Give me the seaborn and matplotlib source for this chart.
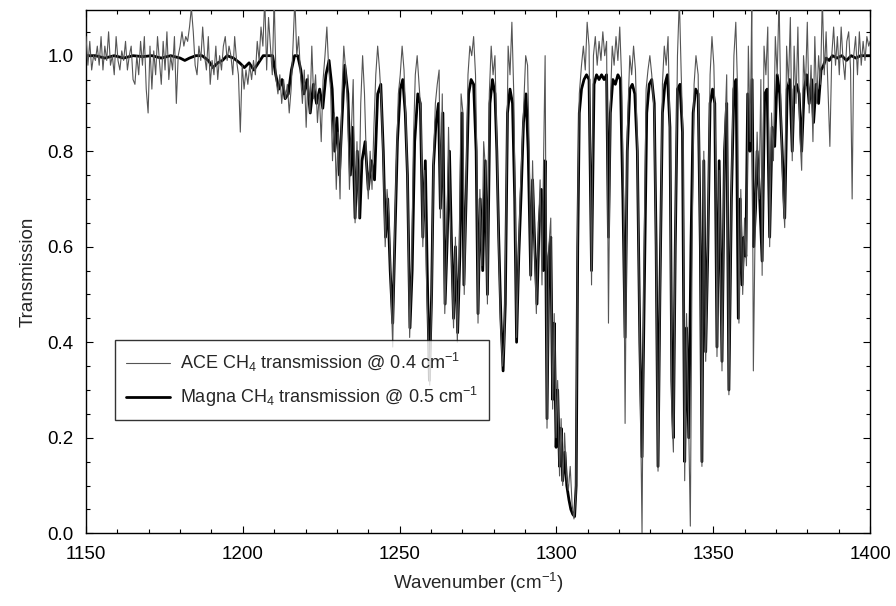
import numpy as np
import pandas as pd
import seaborn as sns
import matplotlib.pyplot as plt
from matplotlib.ticker import MultipleLocator

# (wavenumber in cm-1, transmission)
magna_wn = [
    1150, 1153, 1156, 1159, 1162, 1165, 1168, 1171, 1174, 1177, 1180, 1181.5, 1183, 1185, 1187, 1189,
    1190.5, 1192, 1193.5, 1195, 1197, 1199, 1200.5, 1202, 1203.5, 1205, 1206.5, 1208, 1209.5, 1210.5,
    1211.5, 1212.5, 1213.5, 1214.5, 1215.5, 1216.5, 1217.5, 1218.5, 1219.5, 1220.5, 1221.5, 1222.5,
    1223.5, 1224.5, 1225.5, 1226.5, 1227.5, 1228.5, 1229.3, 1230, 1230.8, 1231.5, 1232.5, 1233.5,
    1234.3, 1235, 1235.8, 1236.5, 1237.3, 1238, 1239, 1240, 1241, 1242, 1243, 1244, 1244.8, 1245.5,
    1246.2, 1247, 1247.8, 1248.5, 1249.3, 1250.2, 1251, 1251.8, 1252.5, 1253.3, 1254, 1254.8, 1255.8,
    1256.6, 1257.4, 1258.2, 1258.8, 1259.5, 1260.2, 1260.8, 1261.6, 1262.4, 1263, 1263.8, 1264.5,
    1265.2, 1265.9, 1266.5, 1267.2, 1267.8, 1268.5, 1269.2, 1269.9, 1270.5, 1271.2, 1272, 1272.8,
    1273.6, 1274.4, 1275, 1275.7, 1276.5, 1277.3, 1278, 1278.8, 1279.6, 1280.4, 1281, 1281.6, 1282.3,
    1283, 1283.7, 1284.4, 1285.2, 1286, 1286.7, 1287.3, 1288, 1288.8, 1289.5, 1290.3, 1291, 1291.8,
    1292.4, 1293, 1293.8, 1294.5, 1295.2, 1295.8, 1296.4, 1297, 1297.6, 1298.2, 1298.8, 1299.3,
    1299.9, 1300.4, 1301, 1301.5, 1302, 1302.7, 1303.3, 1304, 1304.6, 1305.2, 1305.8, 1306.3, 1306.8,
    1307.3, 1308, 1308.8, 1309.6, 1310.4, 1311.2, 1312, 1312.8, 1313.6, 1314.4, 1315.2, 1316, 1316.6,
    1317.2, 1318, 1318.8, 1319.6, 1320.4, 1321.2, 1321.9, 1322.6, 1323.4, 1324.2, 1325, 1325.8,
    1326.6, 1327.3, 1328, 1328.8, 1329.6, 1330.4, 1331.2, 1331.8, 1332.4, 1333, 1333.8, 1334.6,
    1335.4, 1336.2, 1336.8, 1337.3, 1337.9, 1338.6, 1339.4, 1340.2, 1340.9, 1341.5, 1342.2, 1342.9,
    1343.6, 1344.4, 1345.2, 1345.9, 1346.4, 1347, 1347.6, 1348.3, 1349, 1349.8, 1350.5, 1351.2,
    1351.9, 1352.8, 1353.6, 1354.3, 1355, 1355.8, 1356.6, 1357.3, 1358, 1358.6, 1359.2, 1359.8,
    1360.4, 1361, 1361.7, 1362.4, 1362.9, 1363.5, 1364, 1364.7, 1365.6, 1366.4, 1367.2, 1368, 1368.8,
    1369.6, 1370.4, 1371.2, 1372, 1372.8, 1373.6, 1374.4, 1375.2, 1375.8, 1376.6, 1377.4, 1378.2,
    1379, 1379.8, 1380.6, 1381.4, 1382, 1382.8, 1383.6, 1384.4, 1385.2, 1386, 1387, 1388, 1389.5,
    1391, 1392.5, 1394, 1395.5, 1397, 1398.5, 1400,
]
magna_tr = [
    1.00, 1.00, 0.995, 1.00, 0.995, 1.00, 0.998, 1.00, 0.995, 1.00, 0.995, 0.99, 0.995, 1.00, 1.00, 0.99,
    0.975, 0.985, 0.99, 1.00, 0.995, 0.985, 0.975, 0.985, 0.97, 0.985, 1.00, 1.00, 1.00, 0.96,
    0.93, 0.95, 0.91, 0.92, 0.97, 1.00, 1.00, 0.97, 0.92, 0.95, 0.88, 0.94,
    0.90, 0.93, 0.89, 0.96, 0.99, 0.93, 0.80, 0.87, 0.75, 0.85, 0.98, 0.92,
    0.75, 0.85, 0.66, 0.80, 0.66, 0.78, 0.82, 0.72, 0.78, 0.74, 0.92, 0.94, 0.80, 0.62,
    0.70, 0.55, 0.44, 0.62, 0.82, 0.93, 0.95, 0.88, 0.75, 0.43, 0.55, 0.82, 0.92,
    0.90, 0.62, 0.78, 0.55, 0.32, 0.50, 0.77, 0.86, 0.90, 0.68, 0.88, 0.48,
    0.62, 0.80, 0.62, 0.45, 0.60, 0.42, 0.58, 0.88, 0.52, 0.70, 0.92, 0.95,
    0.94, 0.80, 0.46, 0.70, 0.55, 0.78, 0.50, 0.90, 0.95, 0.92, 0.80, 0.62, 0.45,
    0.34, 0.48, 0.88, 0.93, 0.90, 0.70, 0.40, 0.58, 0.72, 0.86, 0.92, 0.80, 0.54,
    0.74, 0.62, 0.48, 0.65, 0.72, 0.55, 0.78, 0.24, 0.58, 0.62, 0.28, 0.44,
    0.18, 0.30, 0.14, 0.22, 0.11, 0.17, 0.10, 0.07, 0.05, 0.04, 0.035, 0.10, 0.60,
    0.88, 0.93, 0.95, 0.96, 0.95, 0.55, 0.94, 0.96, 0.95, 0.96, 0.95, 0.96, 0.62,
    0.88, 0.95, 0.94, 0.96, 0.95, 0.70, 0.41, 0.80, 0.93, 0.94, 0.92, 0.80,
    0.40, 0.16, 0.50, 0.88, 0.94, 0.95, 0.90, 0.60, 0.14, 0.50, 0.88, 0.94,
    0.96, 0.85, 0.32, 0.20, 0.60, 0.93, 0.94, 0.84, 0.15, 0.43, 0.20, 0.60,
    0.88, 0.93, 0.92, 0.60, 0.15, 0.78, 0.38, 0.60, 0.90, 0.93, 0.90, 0.39,
    0.78, 0.36, 0.80, 0.90, 0.30, 0.70, 0.93, 0.95, 0.45, 0.70, 0.52, 0.62,
    0.58, 0.92, 0.80, 0.95, 0.60, 0.68, 0.80, 0.72, 0.57, 0.92, 0.93, 0.62, 0.85,
    0.81, 0.96, 0.92, 0.80, 0.66, 0.93, 0.95, 0.80, 0.93, 0.94, 0.92, 0.80,
    0.93, 0.96, 0.90, 0.95, 0.86, 0.94, 0.90, 0.97, 0.98, 0.995, 0.99, 1.00, 0.995,
    1.00, 0.99, 1.00, 0.995, 1.00, 1.00, 1.00,
]

ace_wn = [
    1150.0, 1150.6, 1151.2, 1151.8, 1152.4, 1153.0, 1153.6, 1154.2, 1154.8, 1155.4, 1156.0, 1156.6,
    1157.2, 1157.8, 1158.4, 1159.0, 1159.6, 1160.2, 1160.8, 1161.4, 1162.0, 1162.6, 1163.2, 1163.8,
    1164.4, 1165.0, 1165.6, 1166.2, 1166.8, 1167.4, 1168.0, 1168.6, 1169.2, 1169.8, 1170.4, 1171.0,
    1171.6, 1172.2, 1172.8, 1173.4, 1174.0, 1174.6, 1175.2, 1175.8, 1176.4, 1177.0, 1177.6, 1178.2,
    1178.8, 1179.4, 1180.0, 1180.6, 1181.2, 1181.8, 1182.4, 1183.0, 1183.6, 1184.2, 1184.8, 1185.4,
    1186.0, 1186.6, 1187.2, 1187.8, 1188.4, 1189.0, 1189.6, 1190.2, 1190.8, 1191.4, 1192.0, 1192.6,
    1193.2, 1193.8, 1194.4, 1195.0, 1195.6, 1196.2, 1196.8, 1197.4, 1198.0, 1198.6, 1199.2, 1199.8,
    1200.4, 1201.0, 1201.6, 1202.2, 1202.8, 1203.4, 1204.0, 1204.6, 1205.2, 1205.8, 1206.4, 1207.0,
    1207.6, 1208.2, 1208.8, 1209.4, 1210.0, 1210.6, 1211.2, 1211.8, 1212.4, 1213.0, 1213.6, 1214.2,
    1214.8, 1215.4, 1216.0, 1216.6, 1217.2, 1217.8, 1218.4, 1219.0, 1219.6, 1220.2, 1220.8, 1221.4,
    1222.0, 1222.6, 1223.2, 1223.8, 1224.4, 1225.0, 1225.6, 1226.2, 1226.8, 1227.4, 1228.0, 1228.6,
    1229.2, 1229.8, 1230.4, 1231.0, 1231.6, 1232.2, 1232.8, 1233.4, 1234.0, 1234.6, 1235.2, 1235.8,
    1236.4, 1237.0, 1237.6, 1238.2, 1238.8, 1239.4, 1240.0, 1240.6, 1241.2, 1241.8, 1242.4, 1243.0,
    1243.6, 1244.2, 1244.8, 1245.4, 1246.0, 1246.6, 1247.2, 1247.8, 1248.4, 1249.0, 1249.6, 1250.2,
    1250.8, 1251.4, 1252.0, 1252.6, 1253.2, 1253.8, 1254.4, 1255.0, 1255.6, 1256.2, 1256.8, 1257.4,
    1258.0, 1258.6, 1259.2, 1259.6, 1260.2, 1260.8, 1261.4, 1262.0, 1262.6, 1263.0, 1263.6, 1264.4,
    1265.0, 1265.6, 1266.2, 1266.8, 1267.2, 1267.8, 1268.4, 1269.0, 1269.6, 1270.2, 1270.6, 1271.2,
    1271.8, 1272.4, 1273.0, 1273.6, 1274.2, 1274.6, 1275.0, 1275.6, 1276.2, 1276.8, 1277.4, 1278.0,
    1278.6, 1279.2, 1279.8, 1280.4, 1281.0, 1281.6, 1282.2, 1282.8, 1283.4, 1284.0, 1284.6, 1285.2,
    1285.8, 1286.4, 1286.8, 1287.3, 1287.8, 1288.4, 1289.0, 1289.6, 1290.2, 1290.8, 1291.4, 1291.8,
    1292.4, 1293.0, 1293.6, 1294.2, 1294.8, 1295.4, 1295.9, 1296.4, 1297.0, 1297.6, 1298.2, 1298.8,
    1299.3, 1299.9, 1300.4, 1301.0, 1301.5, 1302.0, 1302.6, 1303.2, 1303.8, 1304.4, 1305.0, 1305.6,
    1306.2, 1306.8, 1307.3, 1308.0, 1308.6, 1309.2, 1309.8, 1310.4, 1311.2, 1311.8, 1312.4, 1313.0,
    1313.6, 1314.2, 1314.8, 1315.4, 1316.0, 1316.6, 1317.2, 1317.8, 1318.4, 1319.0, 1319.6, 1320.2,
    1320.8, 1321.4, 1321.9, 1322.6, 1323.4, 1324.0, 1324.6, 1325.2, 1325.8, 1326.6, 1327.3, 1327.9,
    1328.6, 1329.2, 1329.8, 1330.4, 1331.2, 1331.8, 1332.4, 1333.0, 1333.8, 1334.4, 1335.0, 1335.6,
    1336.2, 1336.8, 1337.3, 1337.9, 1338.6, 1339.2, 1339.8, 1340.4, 1340.9, 1341.5, 1342.2, 1342.7,
    1343.3, 1343.9, 1344.5, 1345.2, 1345.9, 1346.4, 1347.0, 1347.6, 1348.3, 1349.0, 1349.6, 1350.2,
    1350.8, 1351.2, 1351.9, 1352.8, 1353.6, 1354.3, 1355.0, 1355.8, 1356.6, 1357.2, 1357.8, 1358.2,
    1358.8, 1359.4, 1360.0, 1360.6, 1361.2, 1361.8, 1362.3, 1362.8, 1363.4, 1364.0, 1364.6, 1365.2,
    1365.6, 1366.2, 1366.8, 1367.4, 1368.0, 1368.6, 1369.2, 1369.8, 1370.4, 1371.0, 1371.6, 1372.2,
    1372.8, 1373.4, 1374.0, 1374.6, 1375.2, 1375.8, 1376.4, 1377.0, 1377.6, 1378.2, 1378.8, 1379.4,
    1380.0, 1380.6, 1381.2, 1381.8, 1382.4, 1383.0, 1383.6, 1384.2, 1384.8, 1385.4, 1386.0, 1386.6,
    1387.2, 1387.8, 1388.4, 1389.0, 1389.6, 1390.2, 1390.8, 1391.4, 1392.0, 1392.6, 1393.2, 1393.8,
    1394.3, 1394.8, 1395.4, 1396.0, 1396.6, 1397.2, 1397.8, 1398.4, 1399.0, 1399.6, 1400.0,
]
ace_tr = [
    1.04, 0.98, 1.03, 0.97, 1.00, 0.99, 1.02, 0.98, 1.04, 0.97, 1.02, 0.99,
    1.05, 0.98, 1.00, 0.96, 1.04, 0.99, 0.97, 1.01, 0.99, 1.03, 0.97, 1.00,
    1.02, 0.95, 0.94, 1.00, 0.96, 1.03, 0.98, 1.04, 0.93, 0.88, 1.02, 0.93,
    1.01, 0.96, 1.04, 0.99, 0.94, 1.03, 0.97, 1.05, 0.95, 1.00, 0.97, 1.04,
    0.90, 1.00, 1.02, 1.05, 1.02, 1.04, 1.03, 1.06, 1.10, 1.05, 0.98, 0.96,
    1.02, 0.99, 1.06, 1.00, 0.97, 1.04, 0.94, 0.99, 0.96, 1.02, 0.95, 1.00,
    0.97, 1.02, 1.04, 0.99, 1.02, 1.00, 0.96, 1.04, 0.99, 0.96, 0.84, 0.98,
    0.93, 0.97, 0.94, 0.98, 0.95, 0.99, 0.96, 1.03, 0.99, 1.06, 1.02, 1.12,
    0.97, 1.08, 1.02, 0.96, 1.12, 0.95, 0.92, 0.96, 0.90, 0.95, 0.91, 0.94,
    0.88, 0.93, 1.02, 1.12, 1.00, 1.04, 0.96, 0.90, 0.97, 0.85, 0.96, 0.88,
    1.02, 0.91, 0.96, 0.86, 0.92, 0.82, 0.95, 1.00, 1.06, 0.97, 0.93, 0.78,
    0.88, 0.72, 0.84, 0.70, 0.92, 1.02, 0.97, 0.90, 0.72, 0.84, 0.95, 0.65,
    0.82, 0.66, 0.90, 1.00, 0.92, 0.78, 0.70, 0.80, 0.72, 0.85, 0.96, 1.02,
    0.97, 0.90, 0.78, 0.60, 0.72, 0.66, 0.52, 0.39, 0.62, 0.78, 0.92, 0.96,
    1.02, 0.97, 0.86, 0.72, 0.41, 0.55, 0.82, 0.96, 1.00, 0.94, 0.88, 0.60,
    0.76, 0.52, 0.40, 0.31, 0.48, 0.78, 0.90, 0.94, 0.97, 0.66, 0.92, 0.46,
    0.60, 0.85, 0.66, 0.52, 0.43, 0.62, 0.40, 0.56, 0.92, 0.88, 0.50, 0.72,
    0.96, 1.02, 1.00, 1.04, 0.96, 0.80, 0.44, 0.72, 0.56, 0.82, 0.76, 0.48,
    0.92, 1.02, 0.96, 1.00, 0.82, 0.60, 0.44, 0.35, 0.40, 0.70, 1.02, 0.96,
    1.07, 0.92, 0.72, 0.41, 0.55, 0.70, 0.80, 0.90, 1.00, 0.98, 0.78, 0.53,
    0.78, 0.60, 0.46, 0.62, 0.74, 0.52, 0.78, 1.00, 0.22, 0.60, 0.66, 0.26,
    0.46, 0.20, 0.32, 0.12, 0.24, 0.10, 0.21, 0.12, 0.09, 0.14, 0.06, 0.03,
    0.08, 0.68, 0.92, 0.98, 1.02, 0.97, 1.07, 1.02, 0.52, 1.00, 1.04, 0.98,
    1.03, 0.99, 1.05, 1.00, 1.03, 0.44, 0.90, 1.02, 0.98, 1.04, 0.99, 1.06,
    0.95, 0.70, 0.23, 0.84, 1.00, 0.96, 1.02, 0.97, 0.82, 0.38, 0.0, 0.55,
    0.93, 0.97, 1.00, 0.96, 0.88, 0.58, 0.13, 0.48, 0.94, 1.02, 0.98, 1.04,
    0.84, 0.26, 0.17, 0.62, 1.00, 1.12, 0.96, 0.82, 0.11, 0.46, 0.22, 0.015,
    0.62, 0.94, 1.00, 0.96, 0.58, 0.14, 0.80, 0.36, 0.62, 0.96, 1.04, 0.98,
    0.80, 0.37, 0.76, 0.34, 0.82, 0.96, 0.29, 0.72, 1.00, 1.07, 0.92, 0.44,
    0.72, 0.50, 0.66, 0.56, 1.02, 0.82, 1.12, 0.34, 0.66, 0.84, 0.70, 0.95,
    0.54, 1.02, 0.96, 1.06, 0.60, 0.88, 0.78, 1.04, 0.96, 1.12, 0.88, 0.72,
    0.64, 1.02, 0.94, 1.08, 0.78, 1.02, 0.90, 1.06, 0.84, 0.76, 1.00, 0.93,
    1.07, 0.88, 0.98, 0.82, 1.04, 0.90, 1.00, 0.94, 1.12, 0.96, 1.05, 0.93,
    0.81, 1.00, 1.06, 0.98, 1.04, 0.96, 1.06, 0.99, 0.95, 1.03, 1.05, 0.97,
    0.70, 1.00, 1.04, 0.96, 1.05, 0.98, 1.03, 0.99, 1.04, 1.02, 1.03,
]

ace = pd.DataFrame({'wn': ace_wn, 'tr': ace_tr})
magna = pd.DataFrame({'wn': magna_wn, 'tr': magna_tr})

sns.set_style('ticks')
plt.rcParams['font.family'] = ['Liberation Sans', 'DejaVu Sans']
plt.rcParams['mathtext.default'] = 'regular'

fig = plt.figure(figsize=(8.96, 6.06), dpi=100)
ax = fig.add_axes([0.096, 0.12, 0.875, 0.863])

sns.lineplot(data=magna, x='wn', y='tr', ax=ax, color='black', linewidth=2.0,
             estimator=None, sort=False, zorder=2,
             label='Magna CH$_4$ transmission @ 0.5 cm$^{-1}$')
sns.lineplot(data=ace, x='wn', y='tr', ax=ax, color='#1a1a1a', linewidth=0.8,
             estimator=None, sort=False, zorder=3,
             label='ACE CH$_4$ transmission @ 0.4 cm$^{-1}$')

ax.set_xlim(1150, 1400)
ax.set_ylim(0, 1.095)
ax.xaxis.set_major_locator(MultipleLocator(50))
ax.xaxis.set_minor_locator(MultipleLocator(10))
ax.yaxis.set_major_locator(MultipleLocator(0.2))
ax.yaxis.set_minor_locator(MultipleLocator(0.05))
ax.yaxis.set_major_formatter(plt.FormatStrFormatter('%.1f'))
ax.tick_params(which='both', direction='in', top=True, right=True, labelsize=13.5,
               width=0.8, pad=9, colors='black')
ax.tick_params(which='major', length=5)
ax.tick_params(which='minor', length=3)
for s in ax.spines.values():
    s.set_linewidth(1.0)
    s.set_color('black')

ax.set_xlabel('Wavenumber (cm$^{-1}$)', fontsize=13.5, labelpad=6)
ax.set_ylabel('Transmission', fontsize=13.5, labelpad=8)

handles, labels = ax.get_legend_handles_labels()
handles[1].set_color('#555555')
leg = ax.legend(handles[::-1], labels[::-1], loc='lower left', bbox_to_anchor=(0.026, 0.2),
                fontsize=13, frameon=True, fancybox=False, edgecolor='black',
                handlelength=2.4, borderpad=0.6, labelspacing=0.6, handletextpad=0.6)
leg.get_frame().set_linewidth(1.0)

fig.savefig('out.png', dpi=100)
